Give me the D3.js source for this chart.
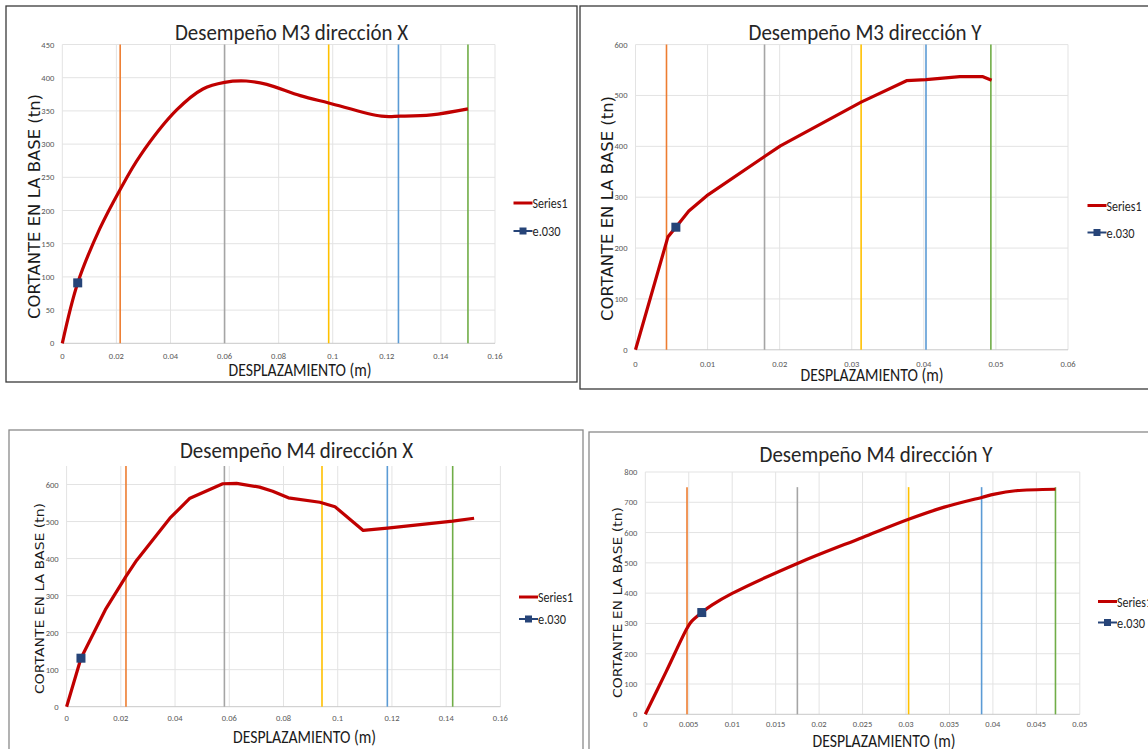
<!DOCTYPE html>
<html>
<head>
<meta charset="utf-8">
<script src="https://cdn.jsdelivr.net/npm/d3@7"></script>
<style>
  body { margin: 0; background: #fff; }
  svg { display: block; }
</style>
</head>
<body>
<script>
// ---- datos ----
// M3 direccion X
var m3xDesp     = [0, 0.0057, 0.0139, 0.0213, 0.0287, 0.0422, 0.0520, 0.0600, 0.0680, 0.0756, 0.0880, 0.0985, 0.1180, 0.1250, 0.1365, 0.1500];
var m3xCortante = [0, 91, 173, 231, 282, 351, 383, 393, 395, 390, 373, 362, 342, 342, 344, 353];
var m3xE030     = [0.0057, 91];
var m3xNiveles  = [0.0214, 0.0600, 0.0985, 0.1243, 0.1500];
var m3xTicksX   = [0, 0.02, 0.04, 0.06, 0.08, 0.1, 0.12, 0.14, 0.16];
var m3xTicksY   = [0, 50, 100, 150, 200, 250, 300, 350, 400, 450];

// M3 direccion Y
var m3yDesp     = [0, 0.0045, 0.0056, 0.0074, 0.0099, 0.0179, 0.0201, 0.0313, 0.0376, 0.0403, 0.0450, 0.0482, 0.0494];
var m3yCortante = [0, 222, 241, 273, 303, 380, 401, 487, 529, 531, 537, 537, 530];
var m3yE030     = [0.0056, 241];
var m3yNiveles  = [0.0043, 0.0179, 0.0313, 0.0403, 0.0493];
var m3yTicksX   = [0, 0.01, 0.02, 0.03, 0.04, 0.05, 0.06];
var m3yTicksY   = [0, 100, 200, 300, 400, 500, 600];

// M4 direccion X
var m4xDesp     = [0, 0.0053, 0.0143, 0.0219, 0.0258, 0.0381, 0.0455, 0.0576, 0.0627, 0.0712, 0.0760, 0.0818, 0.0934, 0.0990, 0.1094, 0.1183, 0.1424, 0.1503];
var m4xCortante = [0, 131, 262, 352, 395, 509, 563, 602, 603, 593, 582, 564, 552, 540, 476, 482, 501, 509];
var m4xE030     = [0.0053, 131];
var m4xNiveles  = [0.0219, 0.0582, 0.0942, 0.1183, 0.1424];
var m4xTicksX   = [0, 0.02, 0.04, 0.06, 0.08, 0.1, 0.12, 0.14, 0.16];
var m4xTicksY   = [0, 100, 200, 300, 400, 500, 600];

// M4 direccion Y
var m4yDesp     = [0, 0.0024, 0.0048, 0.0053, 0.0065, 0.0077, 0.0100, 0.0175, 0.0250, 0.0303, 0.0344, 0.0387, 0.0402, 0.0426, 0.0472];
var m4yCortante = [0, 141, 284, 306, 336, 361, 399, 498, 584, 644, 684, 716, 727, 738, 743];
var m4yE030     = [0.0065, 336];
var m4yNiveles  = [0.0048, 0.0175, 0.0303, 0.0387, 0.0472];
var m4yTopeNiveles = 750;
var m4yTicksX   = [0, 0.005, 0.01, 0.015, 0.02, 0.025, 0.03, 0.035, 0.04, 0.045, 0.05];
var m4yTicksY   = [0, 100, 200, 300, 400, 500, 600, 700, 800];

var coloresNivel = ["#ed7d31", "#a5a5a5", "#ffc000", "#5b9bd5", "#70ad47"];
var leyenda = ["Series1", "e.030"];

var fuenteCalibri = "Carlito, 'Liberation Sans Narrow', 'Arial Narrow', 'DejaVu Sans Condensed', sans-serif";
var fuenteGotica = "'DejaVu Sans', Verdana, sans-serif";

var svg = d3.select("body").append("svg")
    .attr("width", 1148)
    .attr("height", 749);

svg.append("rect").attr("width", 1148).attr("height", 749).attr("fill", "#fff");

function fmt(v) {
    return String(+v.toFixed(4));
}

function dibujarPanel(p) {
    var g = svg.append("g");

    // marco
    g.append("rect")
        .attr("x", p.marco[0]).attr("y", p.marco[1])
        .attr("width", p.marco[2]).attr("height", p.marco[3])
        .attr("fill", "#fff")
        .attr("stroke", p.colorMarco)
        .attr("stroke-width", 1.3);

    var x = d3.scaleLinear().domain([0, p.xMax]).range([p.left, p.right]);
    var y = d3.scaleLinear().domain([0, p.yMax]).range([p.bottom, p.top]);

    // grilla
    g.append("g").selectAll("line.gx")
        .data(p.ticksX)
        .enter().append("line")
        .attr("x1", function(d) { return x(d); })
        .attr("x2", function(d) { return x(d); })
        .attr("y1", y(0)).attr("y2", p.top)
        .attr("stroke", "#e3e3e3").attr("stroke-width", 1);

    g.append("g").selectAll("line.gy")
        .data(p.ticksY)
        .enter().append("line")
        .attr("x1", p.left).attr("x2", p.right)
        .attr("y1", function(d) { return y(d); })
        .attr("y2", function(d) { return y(d); })
        .attr("stroke", function(d) { return d === 0 ? "#c8c8c8" : "#e3e3e3"; })
        .attr("stroke-width", 1);

    // etiquetas de ejes
    g.append("g").selectAll("text")
        .data(p.ticksY)
        .enter().append("text")
        .attr("x", p.left - 8)
        .attr("y", function(d) { return y(d) + 3; })
        .attr("text-anchor", "end")
        .attr("font-family", fuenteCalibri)
        .attr("font-size", 8.5)
        .attr("fill", "#595959")
        .text(fmt);

    g.append("g").selectAll("text")
        .data(p.ticksX)
        .enter().append("text")
        .attr("x", function(d) { return x(d); })
        .attr("y", p.bottom + p.dyTick)
        .attr("text-anchor", "middle")
        .attr("font-family", fuenteCalibri)
        .attr("font-size", 8.5)
        .attr("fill", "#595959")
        .text(fmt);

    // niveles de desempeño (lineas verticales)
    var tope = p.topeNiveles != null ? p.topeNiveles : p.yMax;
    g.append("g").selectAll("line")
        .data(p.niveles)
        .enter().append("line")
        .attr("x1", function(d) { return x(d); })
        .attr("x2", function(d) { return x(d); })
        .attr("y1", y(0)).attr("y2", y(tope))
        .attr("stroke", function(d, i) { return coloresNivel[i]; })
        .attr("stroke-width", 1.6);

    // curva
    var puntos = p.desp.map(function(d, i) { return [d, p.cortante[i]]; });
    var linea = d3.line()
        .x(function(d) { return x(d[0]); })
        .y(function(d) { return y(d[1]); })
        .curve(p.curva);

    g.append("path")
        .datum(puntos)
        .attr("d", linea)
        .attr("fill", "none")
        .attr("stroke", "#c00000")
        .attr("stroke-width", 3.2)
        .attr("stroke-linejoin", "round");

    // punto e.030
    g.append("rect")
        .attr("x", x(p.e030[0]) - 4.5)
        .attr("y", y(p.e030[1]) - 4.5)
        .attr("width", 9).attr("height", 9)
        .attr("fill", "#264478");

    // titulo
    g.append("text")
        .attr("x", p.titulo[0]).attr("y", p.titulo[1])
        .attr("text-anchor", "middle")
        .attr("font-family", fuenteCalibri)
        .attr("font-size", 22)
        .attr("fill", "#262626")
        .attr("textLength", 233)
        .attr("lengthAdjust", "spacingAndGlyphs")
        .text(p.textoTitulo);

    // eje x
    g.append("text")
        .attr("x", p.ejeX[0]).attr("y", p.ejeX[1])
        .attr("text-anchor", "middle")
        .attr("font-family", fuenteCalibri)
        .attr("font-size", 18)
        .attr("fill", "#1a1a1a")
        .attr("textLength", 143)
        .attr("lengthAdjust", "spacingAndGlyphs")
        .text("DESPLAZAMIENTO (m)");

    // eje y
    g.append("text")
        .attr("transform", "translate(" + p.ejeY[0] + "," + p.ejeY[1] + ") rotate(-90)")
        .attr("text-anchor", "middle")
        .attr("font-family", fuenteGotica)
        .attr("font-size", p.ejeY[3])
        .attr("fill", "#1a1a1a")
        .attr("textLength", p.ejeY[2])
        .attr("lengthAdjust", "spacingAndGlyphs")
        .text("CORTANTE EN LA BASE (tn)");

    // leyenda
    var lx = p.leyenda[0], ly = p.leyenda[1];
    g.append("line")
        .attr("x1", lx).attr("x2", lx + 19)
        .attr("y1", ly).attr("y2", ly)
        .attr("stroke", "#c00000").attr("stroke-width", 3);
    g.append("text")
        .attr("x", lx + 19).attr("y", ly + 5)
        .attr("font-family", fuenteCalibri)
        .attr("font-size", 14)
        .attr("fill", "#262626")
        .attr("textLength", 35)
        .attr("lengthAdjust", "spacingAndGlyphs")
        .text(leyenda[0]);

    var ly2 = ly + p.leyenda[2];
    g.append("line")
        .attr("x1", lx).attr("x2", lx + 19)
        .attr("y1", ly2).attr("y2", ly2)
        .attr("stroke", "#264478").attr("stroke-width", 2);
    g.append("rect")
        .attr("x", lx + 9.5 - 3.5).attr("y", ly2 - 3.5)
        .attr("width", 7).attr("height", 7)
        .attr("fill", "#264478");
    g.append("text")
        .attr("x", lx + 19).attr("y", ly2 + 5)
        .attr("font-family", fuenteCalibri)
        .attr("font-size", 14)
        .attr("fill", "#262626")
        .attr("textLength", 28)
        .attr("lengthAdjust", "spacingAndGlyphs")
        .text(leyenda[1]);
}

dibujarPanel({
    marco: [6, 6, 571, 376], colorMarco: "#3a3a3a",
    left: 62.3, right: 495, top: 44.5, bottom: 343.3,
    xMax: 0.16, yMax: 450, ticksX: m3xTicksX, ticksY: m3xTicksY, dyTick: 16,
    desp: m3xDesp, cortante: m3xCortante, e030: m3xE030, niveles: m3xNiveles,
    curva: d3.curveCatmullRom.alpha(0.5),
    textoTitulo: "Desempeño M3 dirección X", titulo: [291.5, 40],
    ejeX: [300, 376], ejeY: [39.5, 206.5, 225, 15], leyenda: [513.5, 203, 28]
});

dibujarPanel({
    marco: [580, 6, 580, 383], colorMarco: "#3a3a3a",
    left: 635.5, right: 1068, top: 44.6, bottom: 349.8,
    xMax: 0.06, yMax: 600, ticksX: m3yTicksX, ticksY: m3yTicksY, dyTick: 17,
    desp: m3yDesp, cortante: m3yCortante, e030: m3yE030, niveles: m3yNiveles,
    curva: d3.curveLinear,
    textoTitulo: "Desempeño M3 dirección Y", titulo: [865, 40],
    ejeX: [872, 381], ejeY: [612.5, 208.5, 225, 15], leyenda: [1087.5, 205.5, 27]
});

dibujarPanel({
    marco: [9, 430, 574, 340], colorMarco: "#8a8a8a",
    left: 66.6, right: 500.4, top: 466, bottom: 706.7,
    xMax: 0.16, yMax: 650, ticksX: m4xTicksX, ticksY: m4xTicksY, dyTick: 14.5,
    desp: m4xDesp, cortante: m4xCortante, e030: m4xE030, niveles: m4xNiveles,
    curva: d3.curveLinear,
    textoTitulo: "Desempeño M4 dirección X", titulo: [296.5, 458],
    ejeX: [304.5, 743], ejeY: [44, 598.5, 191, 13], leyenda: [519, 597, 22]
});

dibujarPanel({
    marco: [589, 432, 580, 340], colorMarco: "#8a8a8a",
    left: 645.3, right: 1079.8, top: 472, bottom: 714.3,
    xMax: 0.05, yMax: 800, ticksX: m4yTicksX, ticksY: m4yTicksY, dyTick: 13,
    desp: m4yDesp, cortante: m4yCortante, e030: m4yE030, niveles: m4yNiveles,
    topeNiveles: m4yTopeNiveles,
    curva: d3.curveCatmullRom.alpha(0.5),
    textoTitulo: "Desempeño M4 dirección Y", titulo: [876, 462],
    ejeX: [884, 747], ejeY: [622, 602.5, 191, 13], leyenda: [1098, 601.5, 21]
});
</script>
</body>
</html>
